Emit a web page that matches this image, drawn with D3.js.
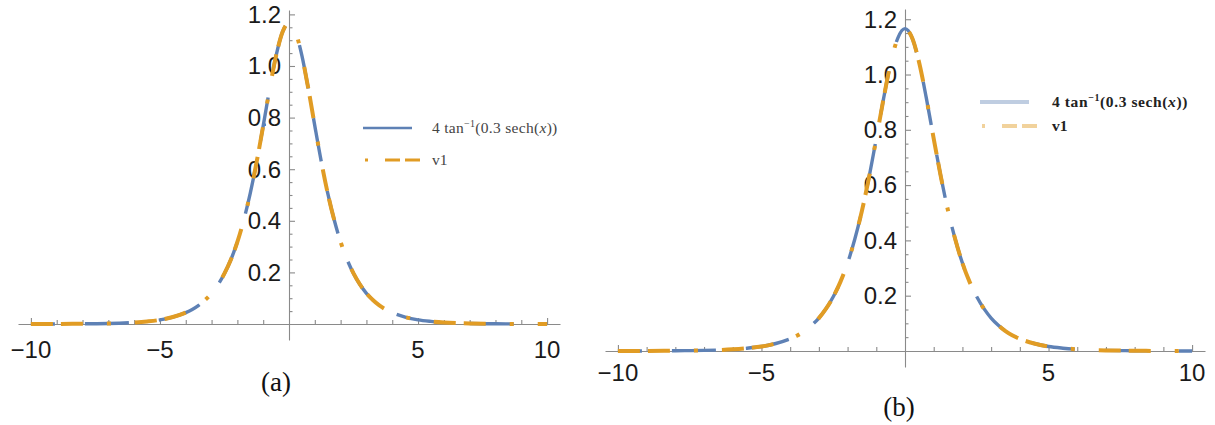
<!DOCTYPE html>
<html>
<head>
<meta charset="utf-8">
<script src="https://cdn.jsdelivr.net/npm/d3@7/dist/d3.min.js"></script>
<style>
  body { margin: 0; background: #fff; }
  svg { display: block; }
</style>
</head>
<body>
<figure style="margin:0"></figure>
<script>
// values (both curves overlap everywhere)
const xs = [-10, -9, -8, -7, -6, -5.5, -5, -4.5, -4, -3.75, -3.5, -3.25, -3, -2.75, -2.5, -2.25, -2, -1.75, -1.5, -1.25, -1, -0.75, -0.5, -0.25,
  0, 0.25, 0.5, 0.75, 1, 1.25, 1.5, 1.75, 2, 2.25, 2.5, 2.75, 3, 3.25, 3.5, 3.75, 4, 4.5, 5, 5.5, 6, 7, 8, 9, 10];
const exactVals = [0, 0, 0.001, 0.002, 0.006, 0.010, 0.016, 0.027, 0.044, 0.056, 0.072, 0.093, 0.119, 0.153, 0.196, 0.250, 0.318, 0.404, 0.507, 0.630, 0.768, 0.911, 1.040, 1.132,
  1.166, 1.132, 1.040, 0.911, 0.768, 0.630, 0.507, 0.404, 0.318, 0.250, 0.196, 0.153, 0.119, 0.093, 0.072, 0.056, 0.044, 0.027, 0.016, 0.010, 0.006, 0.002, 0.001, 0, 0];
const v1Vals = [0, 0, 0.001, 0.002, 0.006, 0.010, 0.016, 0.027, 0.044, 0.056, 0.072, 0.093, 0.119, 0.153, 0.196, 0.250, 0.318, 0.404, 0.507, 0.630, 0.768, 0.911, 1.040, 1.132,
  1.166, 1.132, 1.040, 0.911, 0.768, 0.630, 0.507, 0.404, 0.318, 0.250, 0.196, 0.153, 0.119, 0.093, 0.072, 0.056, 0.044, 0.027, 0.016, 0.010, 0.006, 0.002, 0.001, 0, 0];

const xLabelTicks = [-10, -5, 5, 10];
const xMinorTicks = d3.range(-10, 11, 1).filter(d => d !== 0);
const yLabelTicks = [0.2, 0.4, 0.6, 0.8, 1.0, 1.2];
const yMinorTicks = d3.range(1, 25).map(d => d * 0.05);
const panelNames = ['(a)', '(b)'];

const blue = '#5e81b5';
const orange = '#e19c24';

(() => {
  const totalWidth = 1215;
  const totalHeight = 425;

  const svg = d3.select('figure').append('svg')
    .attr('width', totalWidth)
    .attr('height', totalHeight)
    .style('background-color', '#fff');

  const points = xs.map((x, i) => ({x: x, exact: exactVals[i], v1: v1Vals[i]}));

  // layout of both panels (pixels)
  const panels = [
    {xDom: [-10.5, 10.5], xRange: [18, 560], yDom: [-0.062, 1.217], yRange: [340, 10],
     labelY: 358, name: panelNames[0], nameX: 276, nameY: 391,
     legX: 363, legY: 128, legStep: 32, faded: false},
    {xDom: [-10.45, 10.45], xRange: [605, 1205], yDom: [-0.058, 1.237], yRange: [367, 9],
     labelY: 381, name: panelNames[1], nameX: 899, nameY: 416,
     legX: 980, legY: 102, legStep: 24, faded: true}
  ];

  panels.forEach(p => {
    const x = d3.scaleLinear().domain(p.xDom).range(p.xRange);
    const y = d3.scaleLinear().domain(p.yDom).range(p.yRange);
    const g = svg.append('g');

    // x axis: ticks point up
    const xAxisG = g.append('g')
      .attr('transform', `translate(0, ${y(0)})`)
      .call(d3.axisTop(x).tickValues(xMinorTicks).tickSize(4).tickSizeOuter(0).tickFormat(''));
    xAxisG.selectAll('.tick line').filter(d => xLabelTicks.includes(d)).attr('y2', -6);

    // y axis: ticks point right
    const yAxisG = g.append('g')
      .attr('transform', `translate(${x(0)}, 0)`)
      .call(d3.axisRight(y).tickValues(yMinorTicks).tickSize(3.5).tickSizeOuter(0).tickFormat(''));
    yAxisG.selectAll('.tick line')
      .filter(d => yLabelTicks.some(t => Math.abs(t - d) < 1e-6)).attr('x2', 6);

    g.selectAll('.domain, .tick line').attr('stroke', '#8a8a8a').attr('stroke-width', 1.1);

    g.append('g').selectAll('text').data(xLabelTicks).join('text')
      .attr('x', d => x(d))
      .attr('y', p.labelY)
      .attr('text-anchor', 'middle')
      .attr('font-family', 'Liberation Sans, Arial, sans-serif')
      .attr('font-size', 24)
      .attr('fill', '#1a1a1a')
      .text(d => d < 0 ? '\u2212' + Math.abs(d) : d);

    g.append('g').selectAll('text').data(yLabelTicks).join('text')
      .attr('x', x(0) - 8)
      .attr('y', d => y(d))
      .attr('dy', '0.35em')
      .attr('text-anchor', 'end')
      .attr('font-family', 'Liberation Sans, Arial, sans-serif')
      .attr('font-size', 24)
      .attr('fill', '#1a1a1a')
      .text(d => d.toFixed(1));

    const line = (key) => d3.line()
      .curve(d3.curveMonotoneX)
      .x(d => x(d.x))
      .y(d => y(d[key]));

    g.append('path')
      .datum(points)
      .attr('fill', 'none')
      .attr('stroke', blue)
      .attr('stroke-width', 3.4)
      .attr('stroke-dasharray', '44,30')
      .attr('stroke-dashoffset', 20)
      .attr('d', line('exact'));

    g.append('path')
      .datum(points)
      .attr('fill', 'none')
      .attr('stroke', orange)
      .attr('stroke-width', 4)
      .attr('stroke-dasharray', '22,8,22,24,4,24')
      .attr('d', line('v1'));

    // legend
    const leg = g.append('g')
      .attr('transform', `translate(${p.legX}, ${p.legY})`);
    leg.append('line')
      .attr('x1', 0).attr('x2', 49).attr('y1', 0).attr('y2', 0)
      .attr('stroke', blue)
      .attr('stroke-opacity', p.faded ? 0.4 : 1)
      .attr('stroke-width', p.faded ? 4 : 2.5);
    leg.append('line')
      .attr('x1', 2).attr('x2', 57).attr('y1', p.legStep).attr('y2', p.legStep)
      .attr('stroke', orange)
      .attr('stroke-opacity', p.faded ? 0.45 : 1)
      .attr('stroke-width', p.faded ? 4 : 3)
      .attr('stroke-dasharray', '3,17,15,5,15,20');

    const txt = leg.append('text')
      .attr('x', p.faded ? 72 : 69)
      .attr('y', 5)
      .attr('font-family', 'Liberation Serif, Times New Roman, serif')
      .attr('font-size', 15.5)
      .attr('letter-spacing', p.faded ? 0.6 : 0.3)
      .attr('font-weight', p.faded ? 'bold' : 'normal')
      .attr('fill', p.faded ? '#222' : '#444');
    txt.append('tspan').text('4 tan');
    txt.append('tspan').attr('dy', -6).attr('font-size', 10).text('\u22121');
    txt.append('tspan').attr('dy', 6).text('(0.3 sech(');
    txt.append('tspan').attr('font-style', 'italic').text('x');
    txt.append('tspan').text('))');

    leg.append('text')
      .attr('x', p.faded ? 72 : 69)
      .attr('y', p.legStep + 5)
      .attr('font-family', 'Liberation Serif, Times New Roman, serif')
      .attr('font-size', 15.5)
      .attr('font-weight', p.faded ? 'bold' : 'normal')
      .attr('fill', p.faded ? '#222' : '#444')
      .text('v1');

    g.append('text')
      .attr('x', p.nameX)
      .attr('y', p.nameY)
      .attr('text-anchor', 'middle')
      .attr('font-family', 'Liberation Serif, Times New Roman, serif')
      .attr('font-size', 27)
      .attr('fill', '#111')
      .text(p.name);
  });
})();
</script>
</body>
</html>
